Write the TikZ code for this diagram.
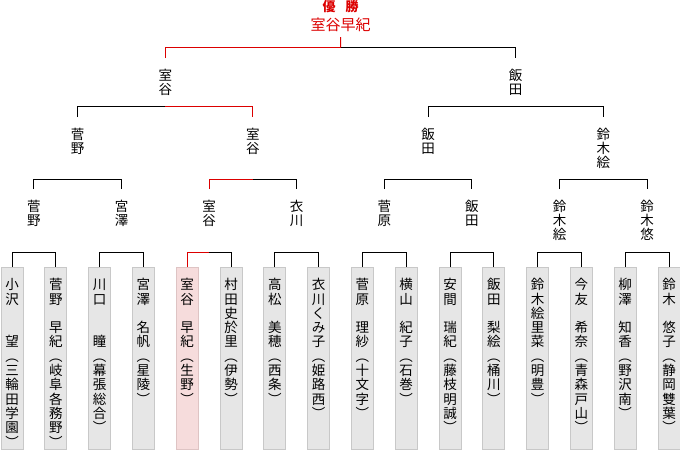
\documentclass[tikz,border=0pt]{standalone}
\usepackage{fontspec}
\setmainfont{Noto Sans CJK JP}
\usetikzlibrary{calc}
\definecolor{winred}{RGB}{220,0,0}
\definecolor{boxfill}{RGB}{230,230,230}
\definecolor{boxline}{RGB}{200,200,200}
\definecolor{pinkfill}{RGB}{246,220,220}
\definecolor{pinkline}{RGB}{222,196,196}
\newlength\vpitch \setlength\vpitch{14.3pt}
\makeatletter
\def\vstk@end{\vstk@end@}
\newcommand\vstk[1]{\vbox{\offinterlineskip\expandafter\vstk@loop#1\vstk@end}}
\def\vstk@loop#1{\ifx#1\vstk@end\else\vbox to\vpitch{\vss\hbox to\vpitch{\hss\vrule height .88em depth .12em width 0pt\relax#1\hss}\vss}\expandafter\vstk@loop\fi}
\makeatother
\newcommand\leaftext[1]{\vbox to 182pt{\vskip 10pt\hbox{\vstk{#1}}\vss}}
\newcommand\brk[5]{%
  \path ($(#1.north)!.5!(#2.north)$) ++(0,-#3) coordinate (#1#2m);
  \draw[#4] (#1.north) |- (#1#2m);
  \draw[#5] (#1#2m) -| (#2.north);
}
\tikzset{
  lose/.style={draw=black, line width=1pt},
  win/.style={draw=winred, line width=1pt},
  leaf/.style={draw=boxline, fill=boxfill, line width=1pt, inner sep=0pt,
    minimum width=22pt, minimum height=182pt, anchor=north,
    font=\fontsize{13.5pt}{14.3pt}\selectfont},
  leafwin/.style={leaf, draw=pinkline, fill=pinkfill},
  lbl/.style={inner sep=0pt, outer ysep=10pt, anchor=north,
    font=\fontsize{13.5pt}{14.3pt}\selectfont},
}
\begin{document}
\begin{tikzpicture}[x=1pt,y=-1pt]
\useasboundingbox (0,0) rectangle (680,450);
% leaves
\node[leaf]    (L0)  at (12,267)    {\leaftext{小沢　　望︵三輪田学園︶}};
\node[leaf]    (L1)  at (55.8,267)  {\leaftext{菅野　早紀︵岐阜各務野︶}};
\node[leaf]    (L2)  at (99.6,267)  {\leaftext{川口　　瞳︵幕張総合︶}};
\node[leaf]    (L3)  at (143.4,267) {\leaftext{宮澤　名帆︵星陵︶}};
\node[leafwin] (L4)  at (187.2,267) {\leaftext{室谷　早紀︵生野︶}};
\node[leaf]    (L5)  at (231,267)   {\leaftext{村田史於里︵伊勢︶}};
\node[leaf]    (L6)  at (274.8,267) {\leaftext{高松　美穂︵西条︶}};
\node[leaf]    (L7)  at (318.6,267) {\leaftext{衣川くみ子︵姫路西︶}};
\node[leaf]    (L8)  at (362.4,267) {\leaftext{菅原　理紗︵十文字︶}};
\node[leaf]    (L9)  at (406.2,267) {\leaftext{横山　紀子︵石巻︶}};
\node[leaf]    (L10) at (450,267)   {\leaftext{安間　瑞紀︵藤枝明誠︶}};
\node[leaf]    (L11) at (493.8,267) {\leaftext{飯田　梨絵︵桶川︶}};
\node[leaf]    (L12) at (537.6,267) {\leaftext{鈴木絵里菜︵明豊︶}};
\node[leaf]    (L13) at (581.4,267) {\leaftext{今友　希奈︵青森戸山︶}};
\node[leaf]    (L14) at (625.2,267) {\leaftext{柳澤　知香︵野沢南︶}};
\node[leaf]    (L15) at (669,267)   {\leaftext{鈴木　悠子︵静岡雙葉︶}};
% round 1 winners
\node[lbl] (A0) at (33.9,189)  {\vstk{菅野}};
\node[lbl] (A1) at (121.5,189) {\vstk{宮澤}};
\node[lbl] (A2) at (209.1,189) {\vstk{室谷}};
\node[lbl] (A3) at (296.7,189) {\vstk{衣川}};
\node[lbl] (A4) at (384.3,189) {\vstk{菅原}};
\node[lbl] (A5) at (471.9,189) {\vstk{飯田}};
\node[lbl] (A6) at (559.5,189) {\vstk{鈴木絵}};
\node[lbl] (A7) at (647.1,189) {\vstk{鈴木悠}};
% round 2 winners
\node[lbl] (B0) at (77.7,117)  {\vstk{菅野}};
\node[lbl] (B1) at (252.9,117) {\vstk{室谷}};
\node[lbl] (B2) at (428.1,117) {\vstk{飯田}};
\node[lbl] (B3) at (603.3,117) {\vstk{鈴木絵}};
% semifinal winners
\node[lbl] (C0) at (165.3,58) {\vstk{室谷}};
\node[lbl] (C1) at (515.7,58) {\vstk{飯田}};
% champion
\node[text=winred, inner sep=0pt, font=\bfseries\fontsize{13pt}{13pt}\selectfont] (yusho) at (340.5,7) {優\hspace{10pt}勝};
\node[text=winred, inner sep=0pt, outer ysep=5.5pt, text height=13pt, text depth=1.5pt, anchor=base, font=\fontsize{15pt}{15pt}\selectfont] (champ) at (340.5,30) {室谷早紀};
% brackets: leaves
\brk{L0}{L1}{15}{lose}{lose}
\brk{L2}{L3}{15}{lose}{lose}
\brk{L4}{L5}{15}{win}{lose}
\brk{L6}{L7}{15}{lose}{lose}
\brk{L8}{L9}{15}{lose}{lose}
\brk{L10}{L11}{15}{lose}{lose}
\brk{L12}{L13}{15}{lose}{lose}
\brk{L14}{L15}{15}{lose}{lose}
% round 1
\brk{A0}{A1}{10}{lose}{lose}
\brk{A2}{A3}{10}{win}{lose}
\brk{A4}{A5}{10}{lose}{lose}
\brk{A6}{A7}{10}{lose}{lose}
% round 2
\brk{B0}{B1}{11}{lose}{win}
\brk{B2}{B3}{11}{lose}{lose}
% semifinal
\brk{C0}{C1}{11}{win}{lose}
\draw[win] (champ.south) -- (C0C1m);
\end{tikzpicture}
\end{document}
